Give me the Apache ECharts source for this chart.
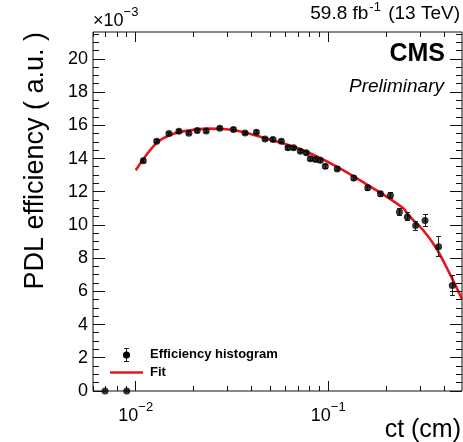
<!DOCTYPE html>
<html>
<head>
<meta charset="utf-8">
<script src="https://cdn.jsdelivr.net/npm/echarts@6/dist/echarts.min.js"></script>
<style>
  html, body { margin: 0; padding: 0; background: #fff; }
  #chart { width: 463px; height: 442px; }
</style>
</head>
<body>
<div id="chart"></div>
<script>
// PDL efficiency versus proper decay length ct; efficiencies are in units of 1e-3.
const histCt = [0.00693, 0.00898, 0.01095, 0.01285, 0.01488, 0.01677, 0.01889, 0.02086, 0.02322, 0.02734,
                0.0322, 0.03698, 0.04236, 0.04694, 0.05164, 0.05708, 0.06177, 0.06611, 0.07161, 0.07691,
                0.08066, 0.08596, 0.09088, 0.0965, 0.1113, 0.1357, 0.1604, 0.1866, 0.2103, 0.2342,
                0.2575, 0.2843, 0.3181, 0.3742, 0.4406];
const histEff = [0, 0, 13.88, 15.05, 15.51, 15.65, 15.53, 15.69, 15.67, 15.83,
                 15.75, 15.55, 15.59, 15.19, 15.15, 15.05, 14.65, 14.65, 14.45, 14.35,
                 13.99, 13.95, 13.9, 13.54, 13.38, 12.84, 12.24, 11.88, 11.78, 10.79,
                 10.49, 9.97, 10.27, 8.69, 6.35];
const histErr = [0, 0, 0.1, 0.1, 0.09, 0.09, 0.09, 0.09, 0.09, 0.09,
                 0.1, 0.1, 0.1, 0.1, 0.1, 0.1, 0.1, 0.1, 0.1, 0.11,
                 0.11, 0.11, 0.11, 0.11, 0.12, 0.13, 0.14, 0.15, 0.17, 0.2,
                 0.24, 0.27, 0.35, 0.6, 0.6];

// Sampled fit curve
const fitCt = [0.01, 0.01285, 0.01566, 0.01912, 0.02333, 0.02844, 0.0347, 0.04966, 0.07387, 0.11,
               0.1637, 0.2435, 0.2638, 0.3092, 0.3627, 0.4252, 0.495];
const fitEff = [13.3, 14.95, 15.49, 15.71, 15.81, 15.79, 15.65, 15.15, 14.51, 13.54,
                12.35, 11.04, 10.53, 9.73, 8.63, 7.12, 5.55];

// Axis ranges and tick positions
const xRange = [0.006, 0.495];
const yRange = [0, 21.63];
const xMajorTicks = [0.01, 0.1];
const xMinorTicks = [0.006, 0.007, 0.008, 0.009, 0.02, 0.03, 0.04, 0.05, 0.06, 0.07, 0.08, 0.09, 0.2, 0.3, 0.4];
const yMajorTicks = [0, 2, 4, 6, 8, 10, 12, 14, 16, 18, 20];
const yMinorTicks = [0.5, 1, 1.5, 2.5, 3, 3.5, 4.5, 5, 5.5, 6.5, 7, 7.5, 8.5, 9, 9.5, 10.5, 11, 11.5,
                     12.5, 13, 13.5, 14.5, 15, 15.5, 16.5, 17, 17.5, 18.5, 19, 19.5, 20.5, 21, 21.5];

const FONT = '"Liberation Sans", Arial, Helvetica, sans-serif';
const RED = '#e8141b';

const chart = echarts.init(document.getElementById('chart'), null, { renderer: 'canvas' });

function crisp(v) { return Math.round(v - 0.5) + 0.5; }

// Inward ticks on all four sides of the frame
function renderTicks(params, api) {
  const children = [];
  const lo = api.coord([xRange[0], yRange[0]]);
  const hi = api.coord([xRange[1], yRange[1]]);
  const left = lo[0], bottom = lo[1], right = hi[0], top = hi[1];
  const seg = (x1, y1, x2, y2) => children.push({
    type: 'line', shape: { x1, y1, x2, y2 }, style: { stroke: '#111', lineWidth: 1 }
  });
  const xt = (list, len) => list.forEach(v => {
    const x = crisp(api.coord([v, yRange[0]])[0]);
    seg(x, bottom, x, bottom - len);
    seg(x, top, x, top + len);
  });
  const yt = (list, len) => list.forEach(v => {
    const y = crisp(api.coord([xRange[0], v])[1]);
    seg(left, y, left + len, y);
    seg(right, y, right - len, y);
  });
  xt(xMajorTicks, 10);
  xt(xMinorTicks, 5);
  yt(yMajorTicks, 12);
  yt(yMinorTicks, 6);
  return { type: 'group', children };
}

// Vertical error bars with small end caps
function renderErrors(params, api) {
  const x = api.value(0);
  const lo = api.value(1), hi = api.value(2);
  if (hi - lo <= 0) return null;
  const p1 = api.coord([x, lo]);
  const p2 = api.coord([x, hi]);
  const cx = crisp(p1[0]);
  const style = { stroke: '#222', lineWidth: 1 };
  return {
    type: 'group',
    children: [
      { type: 'line', shape: { x1: cx, y1: p1[1], x2: cx, y2: p2[1] }, style },
      { type: 'line', shape: { x1: cx - 2.5, y1: crisp(p1[1]), x2: cx + 2.5, y2: crisp(p1[1]) }, style },
      { type: 'line', shape: { x1: cx - 2.5, y1: crisp(p2[1]), x2: cx + 2.5, y2: crisp(p2[1]) }, style }
    ]
  };
}

function isDecade(v) {
  const l = Math.log10(v);
  return Math.abs(l - Math.round(l)) < 1e-6;
}

const supRich = {
  b: { fontFamily: FONT, fontSize: 18, color: '#000', lineHeight: 24, verticalAlign: 'bottom' },
  s: { fontFamily: FONT, fontSize: 13, color: '#000', lineHeight: 13, verticalAlign: 'top' }
};

const option = {
  animation: false,
  backgroundColor: '#fff',
  grid: {
    left: 93, right: 1, top: 32, bottom: 51,
    show: true, borderColor: '#111', borderWidth: 1, backgroundColor: 'transparent',
    containLabel: false, outerBoundsMode: 'none'
  },
  xAxis: {
    type: 'log', logBase: 10, min: xRange[0], max: xRange[1],
    axisLine: { show: false }, axisTick: { show: false }, splitLine: { show: false },
    minorTick: { show: false },
    axisLabel: {
      margin: 10, showMinLabel: true, showMaxLabel: true,
      formatter: v => isDecade(v) ? '{b|10}{s|\u2212' + Math.round(-Math.log10(v)) + '}' : '',
      rich: supRich
    }
  },
  yAxis: {
    type: 'value', min: yRange[0], max: yRange[1], interval: 2,
    axisLine: { show: false }, axisTick: { show: false }, splitLine: { show: false },
    axisLabel: {
      margin: 5, color: '#000', fontFamily: FONT, fontSize: 18, showMaxLabel: false,
      formatter: v => (v <= 20 && Math.abs(v % 2) < 1e-9) ? String(v) : ''
    }
  },
  series: [
    {
      type: 'line', name: 'Fit', data: fitCt.map((c, i) => [c, fitEff[i]]),
      smooth: 0.35, showSymbol: false, symbol: 'none', clip: true,
      lineStyle: { color: RED, width: 2.6 }, z: 2
    },
    {
      type: 'custom', name: 'errors', clip: false, z: 3,
      data: histCt.map((c, i) => [c, histEff[i] - histErr[i], histEff[i] + histErr[i]]),
      encode: { x: 0, y: [1, 2] },
      renderItem: renderErrors
    },
    {
      type: 'scatter', name: 'Efficiency histogram', data: histCt.map((c, i) => [c, histEff[i]]),
      symbol: 'circle', symbolSize: 7, itemStyle: { color: '#000' }, clip: false, z: 4
    },
    {
      type: 'custom', name: 'ticks', clip: false, silent: true, z: 5,
      data: [[xMajorTicks[0], yMajorTicks[1]]],
      encode: { x: 0, y: 1 },
      renderItem: renderTicks
    }
  ],
  graphic: [
    {
      type: 'text', x: 93, y: 30, silent: true,
      style: {
        text: '{b|\u00d710}{s|\u22123}', rich: supRich,
        align: 'left', verticalAlign: 'bottom', textAlign: 'left', textVerticalAlign: 'bottom'
      }
    },
    {
      type: 'text', x: 460, y: 23, silent: true,
      style: {
        text: '{b|59.8 fb}{s|-1}{b| (13 TeV)}',
        rich: {
          b: { fontFamily: FONT, fontSize: 19, color: '#000', lineHeight: 24, verticalAlign: 'bottom' },
          s: { fontFamily: FONT, fontSize: 13, color: '#000', lineHeight: 13, verticalAlign: 'top', padding: [2, 2, 0, 1] }
        },
        align: 'right', verticalAlign: 'bottom', textAlign: 'right', textVerticalAlign: 'bottom'
      }
    },
    {
      type: 'text', x: 445, y: 54, silent: true,
      style: {
        text: 'CMS', fill: '#000', font: 'bold 25px ' + FONT,
        align: 'right', verticalAlign: 'middle', textAlign: 'right', textVerticalAlign: 'middle'
      }
    },
    {
      type: 'text', x: 444, y: 87, silent: true,
      style: {
        text: 'Preliminary', fill: '#000', font: 'italic 19px ' + FONT,
        align: 'right', verticalAlign: 'middle', textAlign: 'right', textVerticalAlign: 'middle'
      }
    },
    {
      type: 'text', x: 461, y: 430, silent: true,
      style: {
        text: 'ct (cm)', fill: '#000', font: '25px ' + FONT,
        align: 'right', verticalAlign: 'middle', textAlign: 'right', textVerticalAlign: 'middle'
      }
    },
    {
      type: 'text', x: 36, y: 32, rotation: Math.PI / 2, silent: true,
      style: {
        text: 'PDL efficiency ( a.u. )', fill: '#000', font: '27px ' + FONT,
        align: 'right', verticalAlign: 'middle', textAlign: 'right', textVerticalAlign: 'middle'
      }
    },
    // legend
    { type: 'line', silent: true, shape: { x1: 126.5, y1: 348, x2: 126.5, y2: 362 }, style: { stroke: '#222', lineWidth: 1 } },
    { type: 'line', silent: true, shape: { x1: 124, y1: 348.5, x2: 129, y2: 348.5 }, style: { stroke: '#222', lineWidth: 1 } },
    { type: 'line', silent: true, shape: { x1: 124, y1: 361.5, x2: 129, y2: 361.5 }, style: { stroke: '#222', lineWidth: 1 } },
    { type: 'circle', silent: true, shape: { cx: 126.5, cy: 355, r: 3.6 }, style: { fill: '#000' } },
    {
      type: 'text', x: 150, y: 354.5, silent: true,
      style: {
        text: 'Efficiency histogram', fill: '#000', font: 'bold 13px ' + FONT,
        align: 'left', verticalAlign: 'middle', textAlign: 'left', textVerticalAlign: 'middle'
      }
    },
    { type: 'line', silent: true, shape: { x1: 110, y1: 372.5, x2: 143, y2: 372.5 }, style: { stroke: RED, lineWidth: 2.6 } },
    {
      type: 'text', x: 150, y: 372.5, silent: true,
      style: {
        text: 'Fit', fill: '#000', font: 'bold 13px ' + FONT,
        align: 'left', verticalAlign: 'middle', textAlign: 'left', textVerticalAlign: 'middle'
      }
    }
  ]
};

chart.setOption(option);
</script>
</body>
</html>
